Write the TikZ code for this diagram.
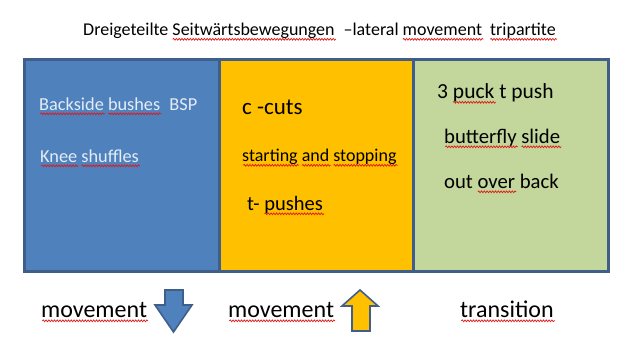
\documentclass[tikz,border=0pt]{standalone}
\usepackage{fontspec}
\setmainfont{Carlito}
\usetikzlibrary{decorations.pathmorphing}
\definecolor{edge}{HTML}{3F5E8A}
\definecolor{bluefill}{HTML}{4F81BD}
\definecolor{yellowfill}{HTML}{FFC000}
\definecolor{greenfill}{HTML}{C3D69B}
\definecolor{paletext}{HTML}{E4ECF5}
\definecolor{squig}{HTML}{E01818}
\newcommand{\fs}[1]{\fontsize{#1}{#1}\selectfont}
% #1 node, #2 font size, #3 text before the word, #4 the word
\newcommand{\squig}[4]{%
  \node[lbl] (sqa) at (#1.base west) {\phantom{\fs{#2}#3}};
  \node[lbl] (sqb) at (#1.base west) {\phantom{\fs{#2}#3#4}};
  \draw[squigline] ([yshift=-3.8pt]sqa.base east) -- ([yshift=-3.8pt, xshift=1pt]sqb.base east);}
\tikzset{
  panel/.style={draw=edge, line width=2.5pt, anchor=north west, inner sep=0pt},
  lbl/.style={inner sep=0pt, anchor=base west},
  blockarrow/.style={draw=edge, line width=1.6pt, line join=miter},
  squigline/.style={draw=squig, line width=0.7pt, decorate,
    decoration={snake, segment length=2.8pt, amplitude=0.9pt}}
}
\begin{document}
\begin{tikzpicture}[x=1pt, y=-1pt]
\useasboundingbox (0,0) rectangle (629,340);
\fill[white] (0,0) rectangle (629,340);

% title
\node[lbl] (title) at (83,35.5) {\fs{18}Dreigeteilte Seitwärtsbewegungen\hspace{0.5em}–lateral movement\hspace{0.45em}tripartite};
\squig{title}{18}{Dreigeteilte\ }{Seitwärtsbewegungen}
\squig{title}{18}{Dreigeteilte Seitwärtsbewegungen\hspace{0.5em}–lateral\ }{movement}
\squig{title}{18}{Dreigeteilte Seitwärtsbewegungen\hspace{0.5em}–lateral movement\hspace{0.45em}}{tripartite}

% panels
\node[panel, fill=bluefill, minimum width=195pt, minimum height=212pt] (blue) at (23,58) {};
\node[panel, fill=greenfill, minimum width=195pt, minimum height=212pt] (green) at (412,58) {};
\node[panel, fill=yellowfill, minimum width=194pt, minimum height=212pt] (yellow) at (218,58) {};

% blue texts
\node[lbl, text=paletext] (bsp) at (39,110) {\fs{18.3}Backside bushes\hspace{0.5em}BSP};
\squig{bsp}{18.3}{}{Backside}
\squig{bsp}{18.3}{Backside\ }{bushes}
\node[lbl, text=paletext] (knee) at (40,162) {\fs{18.3}Knee shuffles};
\squig{knee}{18.3}{}{Knee}
\squig{knee}{18.3}{Knee\ }{shuffles}

% yellow texts
\node[lbl] (cc) at (242,114.5) {\fs{23}c -cuts};
\node[lbl] (ss) at (242,161.5) {\fs{18}starting and stopping};
\squig{ss}{18}{}{starting}
\squig{ss}{18}{starting\ }{and}
\squig{ss}{18}{starting and\ }{stopping}
\node[lbl] (tp) at (247,210) {\fs{20.5}t- pushes};
\squig{tp}{20.5}{t-\ }{pushes}

% green texts
\node[lbl] (pk) at (437,98.5) {\fs{21.5}3 puck t push};
\squig{pk}{21.5}{3\ }{puck}
\node[lbl] (bf) at (444,143) {\fs{20.7}butterfly slide};
\squig{bf}{20.7}{}{butterfly}
\squig{bf}{20.7}{butterfly\ }{slide}
\node[lbl] (ob) at (444,188) {\fs{20.7}out over back};
\squig{ob}{20.7}{out\ }{over}

% bottom labels
\node[lbl] (m1) at (41,317) {\fs{24}movement};
\squig{m1}{24}{}{movement}
\node[lbl] (m2) at (228,317) {\fs{24}movement};
\squig{m2}{24}{}{movement}
\node[lbl] (tr) at (460,317) {\fs{24}transition};
\squig{tr}{24}{}{transition}

% block arrows
\draw[blockarrow, fill=bluefill] (165,290) -- (183,290) -- (183,305) -- (192,305)
  -- (173.5,332) -- (155,305) -- (165,305) -- cycle;
\draw[blockarrow, fill=yellowfill] (352,331) -- (370,331) -- (370,306) -- (378,306)
  -- (360,290) -- (342,306) -- (352,306) -- cycle;
\end{tikzpicture}
\end{document}
